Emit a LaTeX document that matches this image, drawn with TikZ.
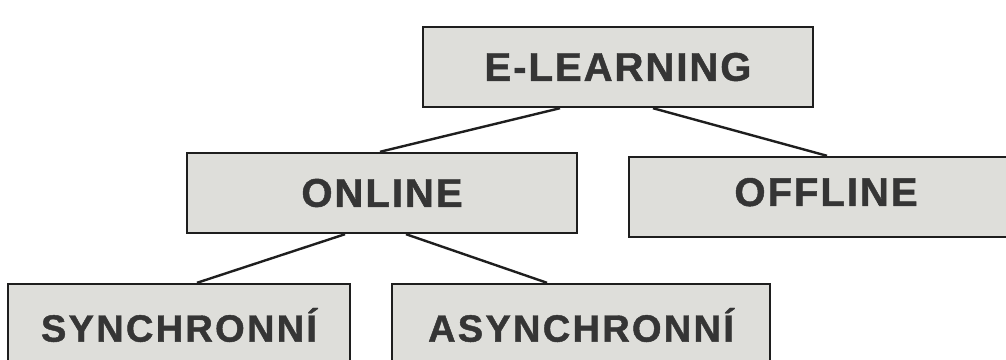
\documentclass[tikz,border=0pt]{standalone}
\usepackage{fontspec}
\setmainfont{Liberation Sans}
\newfontfamily\boxfont[LetterSpace=5,BoldFeatures={FakeBold=1.2}]{Liberation Sans}
\newfontfamily\boxfontb[LetterSpace=6,BoldFeatures={FakeBold=1.2}]{Liberation Sans}
\usetikzlibrary{calc}
\definecolor{boxfill}{HTML}{DEDEDA}
\definecolor{boxtext}{HTML}{353535}
\definecolor{edge}{HTML}{1E1E1E}
\tikzset{
  box/.style={draw=edge, line width=2.4pt, fill=boxfill, text=boxtext,
    inner sep=0pt, font=\boxfont\fontsize{40}{40}\selectfont\bfseries},
  boxlow/.style={box, font=\boxfontb\fontsize{38}{38}\selectfont\bfseries},
  link/.style={draw=edge, line width=2.4pt}
}
\begin{document}
\begin{tikzpicture}[x=1pt,y=-1pt]
\useasboundingbox (0,0) rectangle (1006,359);
\fill[white] (0,0) rectangle (1006,359);
\node[box, minimum width=390pt, minimum height=80pt] (el) at (618,67) {E-LEARNING};
\node[box, minimum width=390pt, minimum height=80pt] (on) at (382,193) {ONLINE};
\node[box, minimum width=394pt, minimum height=80pt] (off) at (826,197) {\raisebox{10pt}{OFFLINE}};
\node[boxlow, minimum width=342pt, minimum height=82pt] (syn) at (179,325) {SYNCHRONNÍ};
\node[boxlow, minimum width=378pt, minimum height=82pt] (asyn) at (581,325) {ASYNCHRONNÍ};
\draw[link] ([xshift=-58pt]el.south) -- ([xshift=-2pt]on.north);
\draw[link] ([xshift=35pt]el.south) -- ([xshift=1pt]off.north);
\draw[link] ([xshift=-37pt]on.south) -- ([xshift=18pt]syn.north);
\draw[link] ([xshift=24pt]on.south) -- ([xshift=-34pt]asyn.north);
\end{tikzpicture}
\end{document}
